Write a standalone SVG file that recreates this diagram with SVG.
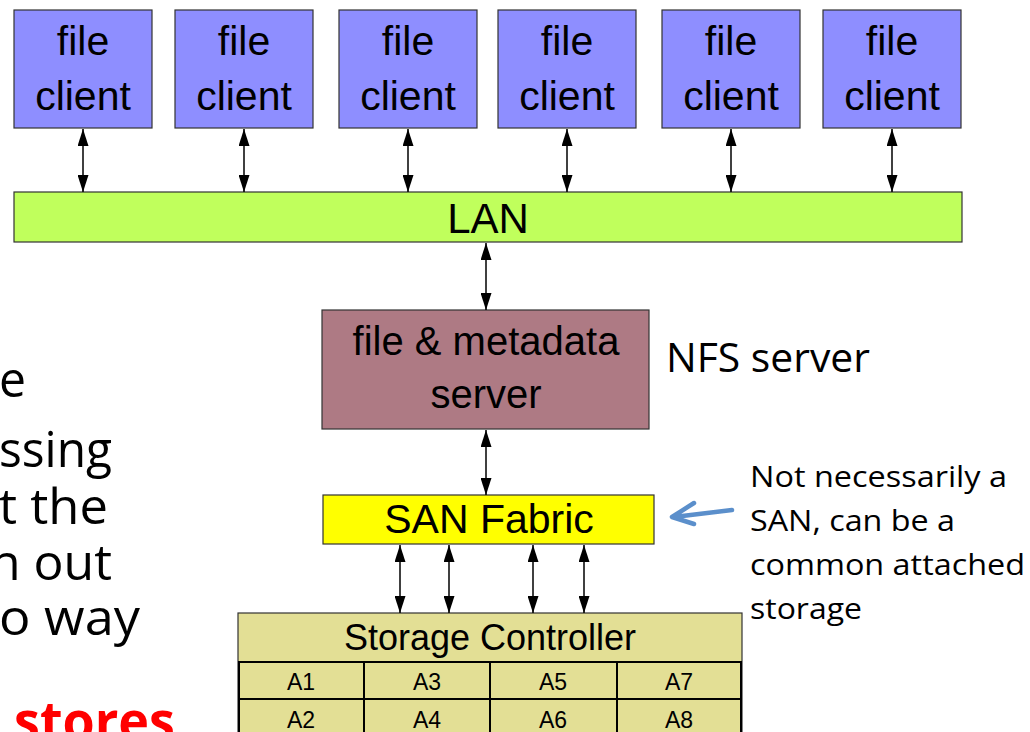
<svg xmlns="http://www.w3.org/2000/svg" width="1030" height="732" viewBox="0 0 1030 732">
<defs>
<marker id="ah" viewBox="0 0 10 10" refX="10" refY="5" markerWidth="17" markerHeight="11" markerUnits="userSpaceOnUse" orient="auto-start-reverse" preserveAspectRatio="none">
<path d="M0,0 L10,5 L0,10 Z" fill="#000"/>
</marker>
<style>
.box{stroke:#333;stroke-width:1.2}
.client{fill:#8e8eff}
.lbl{font-family:"Liberation Sans",Arial,sans-serif;font-size:41px;fill:#000;text-anchor:middle}
.cell{font-family:"Liberation Sans",Arial,sans-serif;font-size:23px;fill:#000;text-anchor:middle}
.conn{stroke:#000;stroke-width:1.5;fill:none;marker-start:url(#ah);marker-end:url(#ah)}
.note{font-family:"Open Sans","DejaVu Sans",sans-serif;fill:#000}
.grid{stroke:#000;stroke-width:2;fill:none}
</style>
</defs>
<rect width="1030" height="732" fill="#fff"/>

<g id="client1"><rect class="box client" x="14" y="10" width="138" height="118"/><text class="lbl" x="83" y="55">file</text><text class="lbl" x="83" y="110">client</text></g>
<g id="client2"><rect class="box client" x="175" y="10" width="138" height="118"/><text class="lbl" x="244" y="55">file</text><text class="lbl" x="244" y="110">client</text></g>
<g id="client3"><rect class="box client" x="339" y="10" width="138" height="118"/><text class="lbl" x="408" y="55">file</text><text class="lbl" x="408" y="110">client</text></g>
<g id="client4"><rect class="box client" x="498" y="10" width="138" height="118"/><text class="lbl" x="567" y="55">file</text><text class="lbl" x="567" y="110">client</text></g>
<g id="client5"><rect class="box client" x="662" y="10" width="138" height="118"/><text class="lbl" x="731" y="55">file</text><text class="lbl" x="731" y="110">client</text></g>
<g id="client6"><rect class="box client" x="823" y="10" width="138" height="118"/><text class="lbl" x="892" y="55">file</text><text class="lbl" x="892" y="110">client</text></g>

<g id="lan"><rect class="box" fill="#c0ff5c" x="14" y="192" width="948" height="50"/><text class="lbl" x="488" y="233" style="font-size:42px">LAN</text></g>

<g id="server"><rect class="box" fill="#ae7a84" x="322" y="310" width="327" height="119"/><text class="lbl" x="486" y="355" style="font-size:40px">file &amp; metadata</text><text class="lbl" x="486" y="408" style="font-size:40px">server</text></g>

<g id="nfs-label"><text class="note" x="666" y="372" font-size="40" textLength="204" lengthAdjust="spacingAndGlyphs">NFS server</text></g>

<g id="san"><rect class="box" fill="#ffff00" x="323" y="495" width="331" height="49"/><text class="lbl" x="489" y="533">SAN Fabric</text></g>

<g id="storage">
<rect class="box" fill="#e3df95" x="238" y="613" width="504" height="130"/>
<text class="lbl" x="490" y="650" style="font-size:36px">Storage Controller</text>
<path class="grid" d="M238,662 H742 M238,699 H742 M364,662 V732 M490,662 V732 M617,662 V732 M239,662 V732 M741,662 V732"/>
<text class="cell" x="301" y="690">A1</text><text class="cell" x="427" y="690">A3</text><text class="cell" x="553" y="690">A5</text><text class="cell" x="679" y="690">A7</text>
<text class="cell" x="301" y="728">A2</text><text class="cell" x="427" y="728">A4</text><text class="cell" x="553" y="728">A6</text><text class="cell" x="679" y="728">A8</text>
</g>

<g id="callout">
<path d="M732,510 L674,517 M694,503 L672,517 L694,524" stroke="#5b8fcb" stroke-width="4.5" fill="none" stroke-linecap="round" stroke-linejoin="round"/>
<text class="note" font-size="30" x="750" y="487" textLength="257" lengthAdjust="spacingAndGlyphs">Not necessarily a</text>
<text class="note" font-size="30" x="750" y="531" textLength="205" lengthAdjust="spacingAndGlyphs">SAN, can be a</text>
<text class="note" font-size="30" x="750" y="575" textLength="275" lengthAdjust="spacingAndGlyphs">common attached</text>
<text class="note" font-size="30" x="750" y="619" textLength="112" lengthAdjust="spacingAndGlyphs">storage</text>
</g>

<g id="left-text" class="note" font-size="50" text-anchor="end">
<text x="26" y="397" textLength="27" lengthAdjust="spacingAndGlyphs">e</text>
<text x="112" y="467" textLength="113" lengthAdjust="spacingAndGlyphs">ssing</text>
<text x="108" y="524" textLength="109" lengthAdjust="spacingAndGlyphs">t the</text>
<text x="112" y="580" textLength="122" lengthAdjust="spacingAndGlyphs">n out</text>
<text x="140" y="635" textLength="141" lengthAdjust="spacingAndGlyphs">o way</text>
<text x="175" y="740" font-size="54" font-weight="bold" textLength="161" lengthAdjust="spacingAndGlyphs" style="fill:#ff0000">stores</text>
</g>

<g id="connectors">
<line class="conn" x1="83" y1="129" x2="83" y2="192"/>
<line class="conn" x1="244" y1="129" x2="244" y2="192"/>
<line class="conn" x1="408" y1="129" x2="408" y2="192"/>
<line class="conn" x1="567" y1="129" x2="567" y2="192"/>
<line class="conn" x1="731" y1="129" x2="731" y2="192"/>
<line class="conn" x1="892" y1="129" x2="892" y2="192"/>
<line class="conn" x1="486" y1="243" x2="486" y2="310"/>
<line class="conn" x1="486" y1="430" x2="486" y2="495"/>
<line class="conn" x1="400" y1="545" x2="400" y2="613"/>
<line class="conn" x1="449" y1="545" x2="449" y2="613"/>
<line class="conn" x1="533" y1="545" x2="533" y2="613"/>
<line class="conn" x1="584" y1="545" x2="584" y2="613"/>
</g>
</svg>
